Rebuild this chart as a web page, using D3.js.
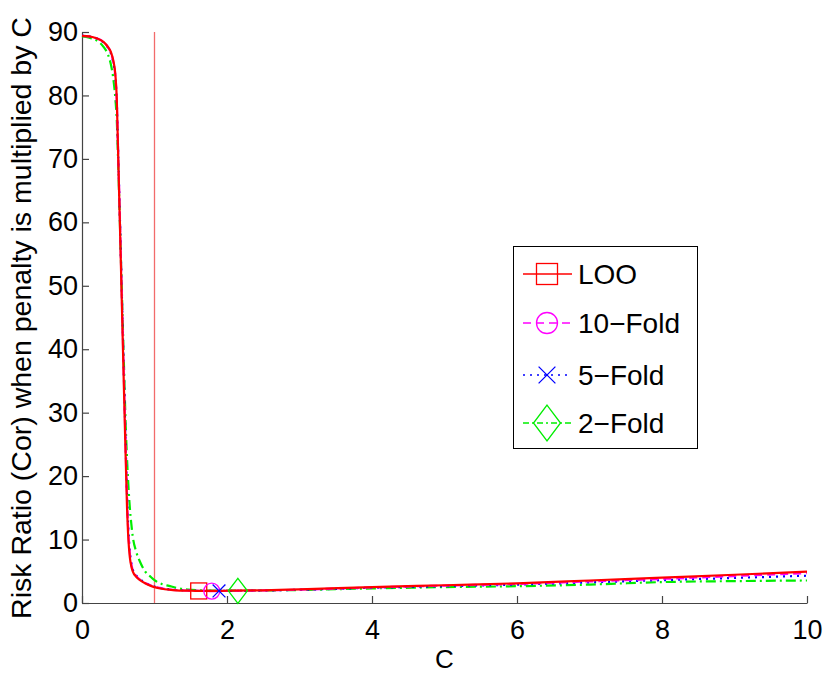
<!DOCTYPE html>
<html>
<head>
<meta charset="utf-8">
<script src="https://cdnjs.cloudflare.com/ajax/libs/d3/7.8.5/d3.min.js"></script>
<style>
  body { margin: 0; background: #fff; }
  svg { font-family: "Liberation Sans", Arial, sans-serif; }
</style>
</head>
<body>
<div id="chart"></div>
<script>
// C grid shared by all four curves
const cVals = [0, 0.1, 0.2, 0.3, 0.36, 0.4, 0.43, 0.46, 0.48, 0.5, 0.52, 0.55, 0.58, 0.6, 0.62, 0.64, 0.66, 0.68, 0.7,
  0.75, 0.8, 0.87, 0.95, 1.0, 1.1, 1.2, 1.3, 1.46, 1.6, 1.8, 2, 2.5, 3, 4, 5, 6, 7, 8, 9, 10];

const loo = [89.4, 89.3, 89.0, 88.4, 87.6, 86.8, 85.6, 83.3, 79.4, 70, 61, 47, 33, 24, 15.5, 10, 7.2, 5.8, 5.0,
  4.1, 3.6, 3.1, 2.7, 2.5, 2.25, 2.1, 2.0, 1.95, 1.9, 1.9, 1.93, 2.0, 2.15, 2.5, 2.8, 3.1, 3.55, 4.0, 4.45, 4.95];
const fold10 = [89.4, 89.3, 89.0, 88.4, 87.6, 86.7, 85.4, 83.0, 79.0, 70.5, 62, 48, 34.5, 25.5, 17, 11, 7.8, 6.1, 5.2,
  4.2, 3.7, 3.15, 2.75, 2.55, 2.3, 2.12, 2.02, 1.95, 1.9, 1.88, 1.9, 1.98, 2.1, 2.45, 2.75, 3.0, 3.4, 3.8, 4.25, 4.7];
const fold5 = [89.4, 89.3, 89.0, 88.3, 87.5, 86.6, 85.3, 82.8, 78.8, 70.5, 62, 48.5, 35, 26, 17.5, 11.5, 8.1, 6.3, 5.3,
  4.3, 3.75, 3.2, 2.8, 2.6, 2.33, 2.15, 2.05, 1.97, 1.92, 1.9, 1.9, 1.97, 2.08, 2.4, 2.65, 2.9, 3.25, 3.6, 3.95, 4.3];
const fold2 = [89.3, 89.1, 88.7, 87.6, 86.4, 84.8, 82.8, 79.5, 76, 69, 61, 49, 37, 29, 23, 18.5, 15, 12.5, 10.5,
  8.0, 6.5, 5.0, 4.1, 3.6, 3.0, 2.7, 2.4, 2.1, 2.0, 1.95, 1.95, 1.98, 2.05, 2.3, 2.5, 2.65, 2.9, 3.3, 3.45, 3.55];

// minimum markers
const seriesNames = ['LOO', '10\u2212Fold', '5\u2212Fold', '2\u2212Fold'];
const minC = [1.61, 1.79, 1.89, 2.15];
const minRisk = [1.9, 1.88, 1.9, 1.92];

const xTicks = [0, 2, 4, 6, 8, 10];
const yTicks = [0, 10, 20, 30, 40, 50, 60, 70, 80, 90];

const margin = {top: 32, right: 23, bottom: 73, left: 82};
const width = 830, height = 676;
const w = width - margin.left - margin.right;
const h = height - margin.top - margin.bottom;

const svg = d3.select('#chart').append('svg')
  .attr('width', width)
  .attr('height', height);
const g = svg.append('g')
  .attr('transform', 'translate(' + margin.left + ',' + margin.top + ')');

const x = d3.scaleLinear().domain([0, 10]).range([0, w]);
const y = d3.scaleLinear().domain([0, 90]).range([h, 0]);

const xAxis = d3.axisBottom(x).tickValues(xTicks).tickSizeInner(-7).tickSizeOuter(0).tickPadding(17);
const yAxis = d3.axisLeft(y).tickValues(yTicks).tickSizeInner(-7).tickSizeOuter(0).tickPadding(4);

const gx = g.append('g')
  .attr('transform', 'translate(0,' + h + ')')
  .call(xAxis);
const gy = g.append('g').call(yAxis);
[gx, gy].forEach(a => {
  a.selectAll('path, line').attr('stroke', '#444').attr('stroke-width', 1.2);
  a.selectAll('text').style('font-size', '27px').attr('fill', '#000');
});

// vertical reference at C = 1
g.append('line')
  .attr('x1', x(1)).attr('x2', x(1))
  .attr('y1', y(90)).attr('y2', y(0))
  .attr('stroke', '#f26b6b').attr('stroke-width', 1.3);

const styles = [
  {data: loo, color: '#ff0000', dash: null},
  {data: fold10, color: '#ff00ff', dash: '8,5'},
  {data: fold5, color: '#0000ff', dash: '2,5'},
  {data: fold2, color: '#00ee00', dash: '10,4,2,4'}
];

const line = d3.line()
  .x((d, i) => x(cVals[i]))
  .y(d => y(d))
  .curve(d3.curveMonotoneX);

// draw later series first so LOO sits on top
for (let k = 3; k >= 0; k--) {
  g.append('path')
    .attr('d', line(styles[k].data))
    .attr('fill', 'none')
    .attr('stroke', styles[k].color)
    .attr('stroke-width', 2.2)
    .attr('stroke-dasharray', styles[k].dash);
}

function marker(sel, k, cx, cy, s) {
  const col = styles[k].color;
  if (k === 0) {
    sel.append('rect').attr('x', cx - s / 2).attr('y', cy - s / 2).attr('width', s).attr('height', s)
      .attr('fill', 'none').attr('stroke', col).attr('stroke-width', 1.3);
  } else if (k === 1) {
    sel.append('circle').attr('cx', cx).attr('cy', cy).attr('r', s / 2)
      .attr('fill', 'none').attr('stroke', col).attr('stroke-width', 1.3);
  } else if (k === 2) {
    const r = s * 0.4;
    sel.append('path').attr('d', `M${cx - r},${cy - r}L${cx + r},${cy + r}M${cx - r},${cy + r}L${cx + r},${cy - r}`)
      .attr('stroke', col).attr('stroke-width', 1.3);
  } else {
    const rx = s * 0.5, ry = s * 0.66;
    sel.append('path').attr('d', `M${cx},${cy - ry}L${cx + rx},${cy}L${cx},${cy + ry}L${cx - rx},${cy}Z`)
      .attr('fill', 'none').attr('stroke', col).attr('stroke-width', 1.3);
  }
}

minC.forEach((c, k) => marker(g, k, x(c), y(minRisk[k]), k === 3 ? 19 : 16));

// legend
const lg = svg.append('g');
lg.append('rect')
  .attr('x', 513.5).attr('y', 246.5).attr('width', 184).attr('height', 202)
  .attr('fill', '#fff').attr('stroke', '#000').attr('stroke-width', 1);
const legendY = [274, 323, 375, 423];
seriesNames.forEach((name, k) => {
  const yy = legendY[k];
  lg.append('line')
    .attr('x1', 523).attr('x2', 572).attr('y1', yy).attr('y2', yy)
    .attr('stroke', styles[k].color).attr('stroke-width', 1.3)
    .attr('stroke-dasharray', styles[k].dash ? (k === 1 ? '8,5' : k === 2 ? '2,5' : '6,3,2,3') : null);
  marker(lg, k, 547, yy, k === 3 ? 27 : 21);
  lg.append('text')
    .attr('x', 578).attr('y', yy)
    .attr('dy', '0.36em')
    .style('font-size', '28px')
    .text(name);
});

// axis labels
svg.append('text')
  .attr('x', x(5) + margin.left).attr('y', 668)
  .attr('text-anchor', 'middle')
  .style('font-size', '26px')
  .text('C');
svg.append('text')
  .attr('transform', 'translate(31,' + 318 + ') rotate(-90)')
  .attr('text-anchor', 'middle')
  .style('font-size', '28.5px')
  .text('Risk Ratio (Cor) when penalty is multiplied by C');
</script>
</body>
</html>
